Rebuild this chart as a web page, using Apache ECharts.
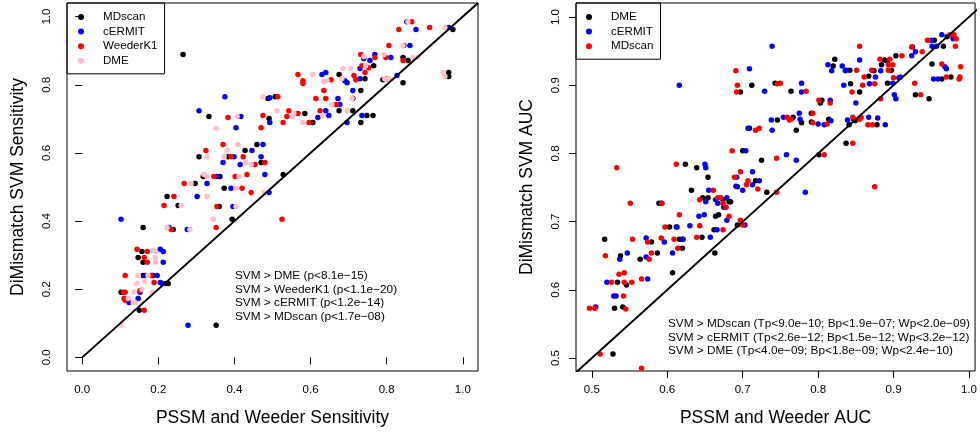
<!DOCTYPE html>
<html>
<head>
<meta charset="utf-8">
<script src="https://cdn.jsdelivr.net/npm/echarts@6/dist/echarts.min.js"></script>
<style>
  html, body { margin: 0; background: #fff; }
  #chart { width: 980px; height: 434px; }
</style>
</head>
<body>
<div id="chart"></div>
<script>
// ---- left panel: sensitivity (x = PSSM/Weeder, y = DiMismatch SVM) ----
const sensMDscan = [[0.265,0.889],[0.488,0.760],[0.507,0.765],[0.333,0.707],[0.491,0.701],[0.585,0.716],[0.459,0.625],[0.428,0.607],[0.307,0.589],[0.383,0.589],[0.470,0.572],[0.318,0.531],[0.362,0.531],[0.297,0.510],[0.373,0.496],[0.528,0.537],[0.223,0.472],[0.252,0.446],[0.360,0.443],[0.394,0.405],[0.160,0.381],[0.239,0.375],[0.974,0.962],[0.845,0.915],[0.843,0.880],[0.856,0.871],[0.766,0.856],[0.675,0.830],[0.743,0.818],[0.732,0.783],[0.790,0.815],[0.843,0.806],[0.963,0.836],[0.963,0.824],[0.711,0.760],[0.675,0.724],[0.711,0.724],[0.606,0.689],[0.748,0.710],[0.764,0.710],[0.732,0.689],[0.157,0.311],[0.147,0.293],[0.160,0.279],[0.160,0.240],[0.186,0.240],[0.220,0.217],[0.226,0.217],[0.102,0.191],[0.150,0.138],[0.352,0.094]];
const sensCermit = [[0.375,0.765],[0.493,0.762],[0.307,0.724],[0.417,0.707],[0.493,0.689],[0.404,0.674],[0.475,0.625],[0.446,0.607],[0.399,0.589],[0.470,0.589],[0.370,0.572],[0.415,0.566],[0.354,0.531],[0.480,0.537],[0.328,0.510],[0.391,0.496],[0.491,0.484],[0.302,0.472],[0.396,0.443],[0.228,0.381],[0.276,0.375],[0.102,0.405],[0.853,0.985],[0.877,0.962],[0.963,0.968],[0.861,0.915],[0.740,0.877],[0.769,0.889],[0.811,0.880],[0.756,0.871],[0.730,0.848],[0.630,0.830],[0.640,0.836],[0.690,0.812],[0.696,0.806],[0.730,0.818],[0.827,0.827],[0.711,0.783],[0.672,0.760],[0.677,0.742],[0.640,0.724],[0.648,0.710],[0.619,0.704],[0.735,0.710],[0.696,0.689],[0.205,0.317],[0.213,0.311],[0.213,0.279],[0.165,0.240],[0.197,0.240],[0.205,0.220],[0.210,0.217],[0.152,0.191],[0.147,0.173],[0.123,0.161],[0.278,0.094]];
const sensWeeder = [[0.514,0.765],[0.383,0.704],[0.475,0.710],[0.543,0.724],[0.538,0.707],[0.567,0.716],[0.528,0.689],[0.596,0.689],[0.470,0.674],[0.370,0.625],[0.325,0.607],[0.391,0.589],[0.423,0.589],[0.480,0.572],[0.454,0.566],[0.346,0.531],[0.402,0.531],[0.433,0.537],[0.268,0.510],[0.420,0.496],[0.444,0.484],[0.241,0.472],[0.215,0.446],[0.354,0.443],[0.525,0.405],[0.234,0.375],[0.352,0.381],[0.866,0.985],[0.832,0.962],[0.913,0.968],[0.806,0.915],[0.732,0.889],[0.769,0.880],[0.798,0.880],[0.843,0.871],[0.735,0.856],[0.753,0.850],[0.743,0.836],[0.567,0.830],[0.580,0.812],[0.580,0.804],[0.654,0.815],[0.714,0.827],[0.719,0.815],[0.801,0.818],[0.635,0.783],[0.614,0.760],[0.640,0.760],[0.667,0.742],[0.625,0.724],[0.144,0.317],[0.171,0.311],[0.163,0.293],[0.171,0.279],[0.113,0.240],[0.181,0.240],[0.189,0.220],[0.108,0.191],[0.113,0.191],[0.152,0.196],[0.110,0.173],[0.113,0.167],[0.163,0.138]];
const sensDME = [[0.475,0.765],[0.407,0.707],[0.512,0.724],[0.554,0.707],[0.556,0.716],[0.580,0.689],[0.352,0.672],[0.409,0.625],[0.381,0.607],[0.328,0.589],[0.373,0.589],[0.430,0.572],[0.444,0.566],[0.320,0.537],[0.328,0.531],[0.412,0.531],[0.286,0.510],[0.404,0.496],[0.478,0.484],[0.328,0.472],[0.260,0.446],[0.404,0.443],[0.344,0.405],[0.223,0.381],[0.283,0.375],[0.856,0.985],[0.953,0.968],[0.843,0.915],[0.740,0.883],[0.793,0.889],[0.869,0.880],[0.882,0.880],[0.745,0.856],[0.706,0.848],[0.685,0.848],[0.606,0.830],[0.635,0.809],[0.643,0.812],[0.682,0.818],[0.795,0.818],[0.806,0.818],[0.948,0.836],[0.953,0.824],[0.709,0.760],[0.656,0.742],[0.633,0.710],[0.696,0.724],[0.186,0.314],[0.192,0.311],[0.192,0.293],[0.192,0.279],[0.147,0.240],[0.173,0.240],[0.144,0.217],[0.165,0.223],[0.136,0.191],[0.157,0.199],[0.184,0.191],[0.121,0.173],[0.134,0.161],[0.139,0.161],[0.102,0.094]];

// ---- right panel: AUC ----
const aucDME = [[0.712,0.900],[0.743,0.903],[0.697,0.890],[0.746,0.849],[0.709,0.837],[0.700,0.804],[0.725,0.790],[0.624,0.784],[0.639,0.779],[0.654,0.765],[0.717,0.760],[0.732,0.743],[0.693,0.751],[0.632,0.746],[0.589,0.727],[0.647,0.735],[0.654,0.735],[0.674,0.732],[0.682,0.729],[0.684,0.729],[0.664,0.708],[0.668,0.710],[0.693,0.695],[0.603,0.692],[0.612,0.692],[0.579,0.670],[0.616,0.674],[0.620,0.674],[0.646,0.677],[0.662,0.688],[0.517,0.674],[0.538,0.650],[0.587,0.654],[0.620,0.661],[0.564,0.645],[0.663,0.654],[0.971,0.971],[0.954,0.966],[0.966,0.957],[0.925,0.956],[0.903,0.943],[0.822,0.938],[0.888,0.937],[0.892,0.935],[0.820,0.928],[0.842,0.922],[0.884,0.930],[0.874,0.921],[0.897,0.922],[0.951,0.931],[0.867,0.913],[0.843,0.902],[0.892,0.903],[0.964,0.909],[0.976,0.912],[0.764,0.891],[0.855,0.890],[0.929,0.886],[0.947,0.880],[0.805,0.878],[0.803,0.874],[0.767,0.853],[0.778,0.845],[0.791,0.859],[0.791,0.846],[0.814,0.850],[0.771,0.834],[0.847,0.850],[0.878,0.842],[0.841,0.842],[0.849,0.848],[0.837,0.815],[0.801,0.798],[0.607,0.625],[0.534,0.611],[0.546,0.607],[0.530,0.573],[0.541,0.575],[0.528,0.506]];
const aucCermit = [[0.709,0.924],[0.616,0.900],[0.729,0.891],[0.738,0.849],[0.707,0.837],[0.739,0.834],[0.704,0.804],[0.650,0.784],[0.651,0.779],[0.713,0.773],[0.692,0.765],[0.722,0.760],[0.713,0.754],[0.691,0.752],[0.700,0.746],[0.655,0.746],[0.592,0.727],[0.651,0.729],[0.664,0.732],[0.667,0.727],[0.675,0.721],[0.679,0.735],[0.642,0.708],[0.649,0.710],[0.679,0.702],[0.703,0.695],[0.613,0.692],[0.630,0.694],[0.572,0.676],[0.596,0.670],[0.621,0.674],[0.657,0.677],[0.666,0.688],[0.547,0.654],[0.607,0.654],[0.537,0.645],[0.572,0.648],[0.964,0.974],[0.979,0.968],[0.950,0.966],[0.951,0.957],[0.957,0.957],[0.739,0.957],[0.929,0.949],[0.924,0.943],[0.855,0.937],[0.813,0.930],[0.837,0.922],[0.832,0.928],[0.818,0.921],[0.836,0.921],[0.883,0.921],[0.968,0.927],[0.970,0.924],[0.876,0.912],[0.907,0.911],[0.909,0.912],[0.778,0.903],[0.834,0.900],[0.868,0.902],[0.899,0.903],[0.953,0.909],[0.959,0.909],[0.778,0.890],[0.901,0.886],[0.903,0.880],[0.816,0.878],[0.850,0.874],[0.754,0.853],[0.775,0.859],[0.776,0.850],[0.800,0.843],[0.808,0.842],[0.817,0.848],[0.839,0.849],[0.867,0.853],[0.879,0.852],[0.889,0.842],[0.758,0.798],[0.771,0.790],[0.783,0.743],[0.574,0.616],[0.520,0.611],[0.529,0.591],[0.532,0.591],[0.505,0.575]];
const aucMDscan = [[0.691,0.921],[0.693,0.900],[0.746,0.902],[0.692,0.890],[0.717,0.834],[0.722,0.837],[0.686,0.804],[0.533,0.779],[0.612,0.784],[0.697,0.773],[0.689,0.765],[0.707,0.760],[0.705,0.754],[0.720,0.748],[0.745,0.743],[0.661,0.746],[0.551,0.727],[0.593,0.727],[0.643,0.732],[0.667,0.735],[0.671,0.735],[0.674,0.727],[0.678,0.721],[0.616,0.710],[0.682,0.708],[0.697,0.702],[0.700,0.695],[0.597,0.692],[0.643,0.694],[0.554,0.674],[0.574,0.670],[0.592,0.676],[0.609,0.674],[0.639,0.677],[0.674,0.688],[0.518,0.650],[0.579,0.654],[0.614,0.661],[0.576,0.645],[0.975,0.974],[0.980,0.974],[0.983,0.968],[0.945,0.966],[0.982,0.957],[0.855,0.957],[0.924,0.956],[0.938,0.949],[0.911,0.943],[0.882,0.938],[0.895,0.938],[0.893,0.930],[0.899,0.930],[0.851,0.922],[0.871,0.922],[0.893,0.922],[0.964,0.931],[0.989,0.927],[0.861,0.912],[0.900,0.911],[0.750,0.903],[0.859,0.900],[0.875,0.902],[0.928,0.903],[0.970,0.912],[0.987,0.909],[0.988,0.912],[0.784,0.891],[0.845,0.890],[0.936,0.886],[0.801,0.878],[0.816,0.874],[0.883,0.880],[0.759,0.853],[0.762,0.849],[0.764,0.850],[0.793,0.859],[0.793,0.845],[0.812,0.843],[0.846,0.853],[0.855,0.850],[0.857,0.853],[0.866,0.842],[0.872,0.842],[0.846,0.815],[0.745,0.793],[0.808,0.798],[0.875,0.751],[0.536,0.623],[0.543,0.625],[0.566,0.616],[0.526,0.611],[0.543,0.611],[0.553,0.611],[0.542,0.591],[0.497,0.573],[0.504,0.573],[0.545,0.572],[0.511,0.506],[0.566,0.485]];

// axes, ticks, reference lines, notes
const sensRange = [-0.04, 1.04];
const sensTicks = [0.0, 0.2, 0.4, 0.6, 0.8, 1.0];
const sensDiag = [0, 1.04];
const aucRangeX = [0.479, 1.008];
const aucRangeY = [0.481, 1.0205];
const aucTicks = [0.5, 0.6, 0.7, 0.8, 0.9, 1.0];
const aucDiag = [0.46, 1.04];
const sensNotes = ['SVM > DME (p<8.1e\u221215)', 'SVM > WeederK1 (p<1.1e\u221220)', 'SVM > cERMIT (p<1.2e\u221214)', 'SVM > MDscan (p<1.7e\u221208)'];
const aucNotes = ['SVM > MDscan (Tp<9.0e\u221210; Bp<1.9e\u221207; Wp<2.0e\u221209)', 'SVM > cERMIT (Tp<2.6e\u221212; Bp<1.5e\u221212; Wp<3.2e\u221212)', 'SVM > DME (Tp<4.0e\u221209; Bp<1.8e\u221209; Wp<2.4e\u221210)'];

const font = "'Liberation Sans', Arial, sans-serif";
const dotSize = 5.5;

function xAxis(idx, range, ticks, title) {
  return {
    type: 'value', gridIndex: idx, min: range[0], max: range[1],
    name: title, nameLocation: 'middle', nameGap: 38,
    nameTextStyle: { fontFamily: font, fontSize: 17.5, color: '#000' },
    axisLine: { show: false }, splitLine: { show: false },
    axisTick: { show: true, length: 7, customValues: ticks, lineStyle: { color: '#000' } },
    axisLabel: { customValues: ticks, margin: 13, formatter: v => v.toFixed(1),
                 fontFamily: font, fontSize: 11.5, color: '#000' }
  };
}
function yAxis(idx, range, ticks, title) {
  return {
    type: 'value', gridIndex: idx, min: range[0], max: range[1],
    name: title, nameLocation: 'middle', nameGap: 40,
    nameTextStyle: { fontFamily: font, fontSize: 17.5, color: '#000' },
    axisLine: { show: false }, splitLine: { show: false },
    axisTick: { show: true, length: 7, customValues: ticks, lineStyle: { color: '#000' } },
    axisLabel: { customValues: ticks, margin: 14, rotate: 90, formatter: v => v.toFixed(1),
                 fontFamily: font, fontSize: 11.5, color: '#000' }
  };
}
function dots(name, data, color, idx) {
  return { type: 'scatter', name, data, xAxisIndex: idx, yAxisIndex: idx,
           symbol: 'circle', symbolSize: dotSize, itemStyle: { color, opacity: 1 },
           silent: true, emphasis: { disabled: true } };
}
function diag(ends, idx) {
  return { type: 'line', data: ends.map(v => [v, v]), xAxisIndex: idx, yAxisIndex: idx,
           symbol: 'none', silent: true, clip: true, z: 5,
           lineStyle: { color: '#000', width: 2 } };
}
function legendBox(names, left, pad) {
  return {
    data: names, left, top: 3, orient: 'vertical', icon: 'circle',
    padding: pad, itemGap: 0.6, itemWidth: 6, itemHeight: 6,
    borderColor: '#000', borderWidth: 1, selectedMode: false,
    formatter: n => n.split(':').pop(),
    textStyle: { fontFamily: font, fontSize: 11.6, color: '#000', lineHeight: 14, padding: [0, 0, 0, 14] }
  };
}

const chart = echarts.init(document.getElementById('chart'));
chart.setOption({
  animation: false,
  backgroundColor: '#fff',
  grid: [
    { left: 67, top: 3, width: 411, height: 368, show: true, borderColor: '#000', borderWidth: 1 },
    { left: 576, top: 3, width: 401, height: 368, show: true, borderColor: '#000', borderWidth: 1 }
  ],
  xAxis: [
    xAxis(0, sensRange, sensTicks, 'PSSM and Weeder Sensitivity'),
    xAxis(1, aucRangeX, aucTicks, 'PSSM and Weeder AUC')
  ],
  yAxis: [
    yAxis(0, sensRange, sensTicks, 'DiMismatch SVM Sensitivity'),
    yAxis(1, aucRangeY, aucTicks, 'DiMismatch SVM AUC')
  ],
  legend: [
    legendBox(['MDscan', 'cERMIT', 'WeederK1', 'DME'], 67, [7, 7, 6, 11]),
    legendBox(['auc:DME', 'auc:cERMIT', 'auc:MDscan'], 576, [7, 7, 6, 10])
  ],
  series: [
    dots('MDscan', sensMDscan, '#000000', 0),
    dots('cERMIT', sensCermit, '#0000ff', 0),
    dots('WeederK1', sensWeeder, '#ff0000', 0),
    dots('DME', sensDME, '#ffc0cb', 0),
    diag(sensDiag, 0),
    dots('auc:DME', aucDME, '#000000', 1),
    dots('auc:cERMIT', aucCermit, '#0000ff', 1),
    dots('auc:MDscan', aucMDscan, '#ff0000', 1),
    diag(aucDiag, 1)
  ],
  graphic: [
    { type: 'text', left: 235, top: 269, silent: true,
      style: { text: sensNotes.join('\n'), fontFamily: font, fontSize: 11.8, lineHeight: 13.6, fill: '#000' } },
    { type: 'text', left: 668, top: 317, silent: true,
      style: { text: aucNotes.join('\n'), fontFamily: font, fontSize: 11.8, lineHeight: 13.6, fill: '#000' } }
  ]
});
</script>
</body>
</html>
